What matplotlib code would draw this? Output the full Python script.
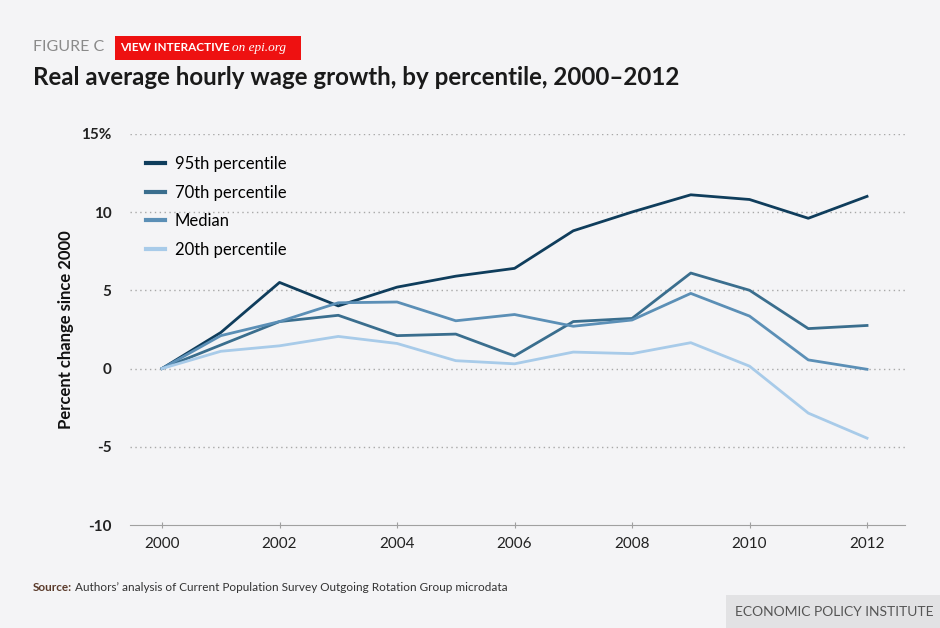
import numpy as np
import matplotlib.pyplot as plt
from matplotlib.patches import Rectangle

# Data
years = [2000, 2001, 2002, 2003, 2004, 2005, 2006, 2007, 2008, 2009, 2010, 2011, 2012]
p95 = [0, 2.3, 5.5, 4.0, 5.2, 5.9, 6.4, 8.8, 10.0, 11.1, 10.8, 9.6, 11.0]
p70 = [0, 1.5, 3.0, 3.4, 2.1, 2.2, 0.8, 3.0, 3.2, 6.1, 5.0, 2.55, 2.75]
median = [0, 2.1, 3.0, 4.2, 4.25, 3.05, 3.45, 2.7, 3.1, 4.8, 3.35, 0.55, -0.05]
p20 = [0, 1.1, 1.45, 2.05, 1.6, 0.5, 0.3, 1.05, 0.95, 1.65, 0.15, -2.85, -4.45]

series_names = ['95th percentile', '70th percentile', 'Median', '20th percentile']
series_colors = ['#0f3d5c', '#3a6e8e', '#5b8fb6', '#a8cbe9']
yticks = [-10, -5, 0, 5, 10, 15]
yticklabels = ['-10', '-5', '0', '5', '10', '15%']
xticks = [2000, 2002, 2004, 2006, 2008, 2010, 2012]

plt.rcParams['font.family'] = ['Lato', 'DejaVu Sans']
bg = '#f4f4f6'

fig = plt.figure(figsize=(9.4, 6.28), dpi=100, facecolor=bg)
ax = fig.add_axes([0.138, 0.164, 0.825, 0.623], facecolor=bg)

for vals, name, col in zip([p95, p70, median, p20], series_names, series_colors):
    ax.plot(years, vals, color=col, lw=2.0, label=name)

ax.set_xlim(1999.45, 2012.65)
ax.set_ylim(-10, 15)
ax.set_yticks(yticks)
ax.set_yticklabels(yticklabels, fontsize=11, fontweight='bold', color='#222222')
ax.set_xticks(xticks)
ax.set_xticklabels([str(x) for x in xticks], fontsize=11, color='#222222')

for y in yticks[1:]:
    ax.axhline(y, color='#a8a8a8', lw=1, ls=(0, (1, 2.5)), zorder=0)

for s in ['top', 'right', 'left']:
    ax.spines[s].set_visible(False)
ax.spines['bottom'].set_color('#a0a0a0')
ax.tick_params(axis='y', length=0, pad=13)
ax.tick_params(axis='x', length=5, direction='inout', color='#a0a0a0', pad=6)

ax.set_ylabel('Percent change since 2000', fontsize=12, fontweight='bold',
              color='#111111', labelpad=5)

leg = ax.legend(loc='upper left', bbox_to_anchor=(0.0, 0.985), frameon=False,
                fontsize=12, handlelength=1.1, labelspacing=0.75,
                handletextpad=0.6, borderaxespad=0.6)
for line in leg.get_lines():
    line.set_linewidth(3)

# Header
fig.text(0.035, 0.925, 'FIGURE C', fontsize=11.5, color='#8a8a8a', va='center')
fig.patches.append(Rectangle((0.122, 0.905), 0.198, 0.038, transform=fig.transFigure,
                             facecolor='#ee1111', edgecolor='none'))
fig.text(0.128, 0.924, 'VIEW INTERACTIVE', fontsize=8.5, color='white',
         fontweight='bold', va='center')
fig.text(0.247, 0.924, 'on epi.org', fontsize=9.5, color='white', style='italic',
         family=['Liberation Serif', 'DejaVu Serif'], va='center')
fig.text(0.035, 0.876, 'Real average hourly wage growth, by percentile, 2000\u20132012',
         fontsize=17.4, fontweight='bold', color='#1a1a1a', va='center')

# Footer
fig.text(0.035, 0.065, 'Source:', fontsize=8.5, fontweight='bold', color='#5a3a2a', va='center')
fig.text(0.080, 0.065, 'Authors\u2019 analysis of Current Population Survey Outgoing Rotation Group microdata',
         fontsize=8.5, color='#333333', va='center')
fig.patches.append(Rectangle((0.772, 0.0), 0.23, 0.052, transform=fig.transFigure,
                             facecolor='#e2e2e4', edgecolor='none'))
fig.text(0.782, 0.026, 'ECONOMIC POLICY INSTITUTE', fontsize=10, color='#555555', va='center')

fig.savefig('out.png', dpi=100, facecolor=bg)
